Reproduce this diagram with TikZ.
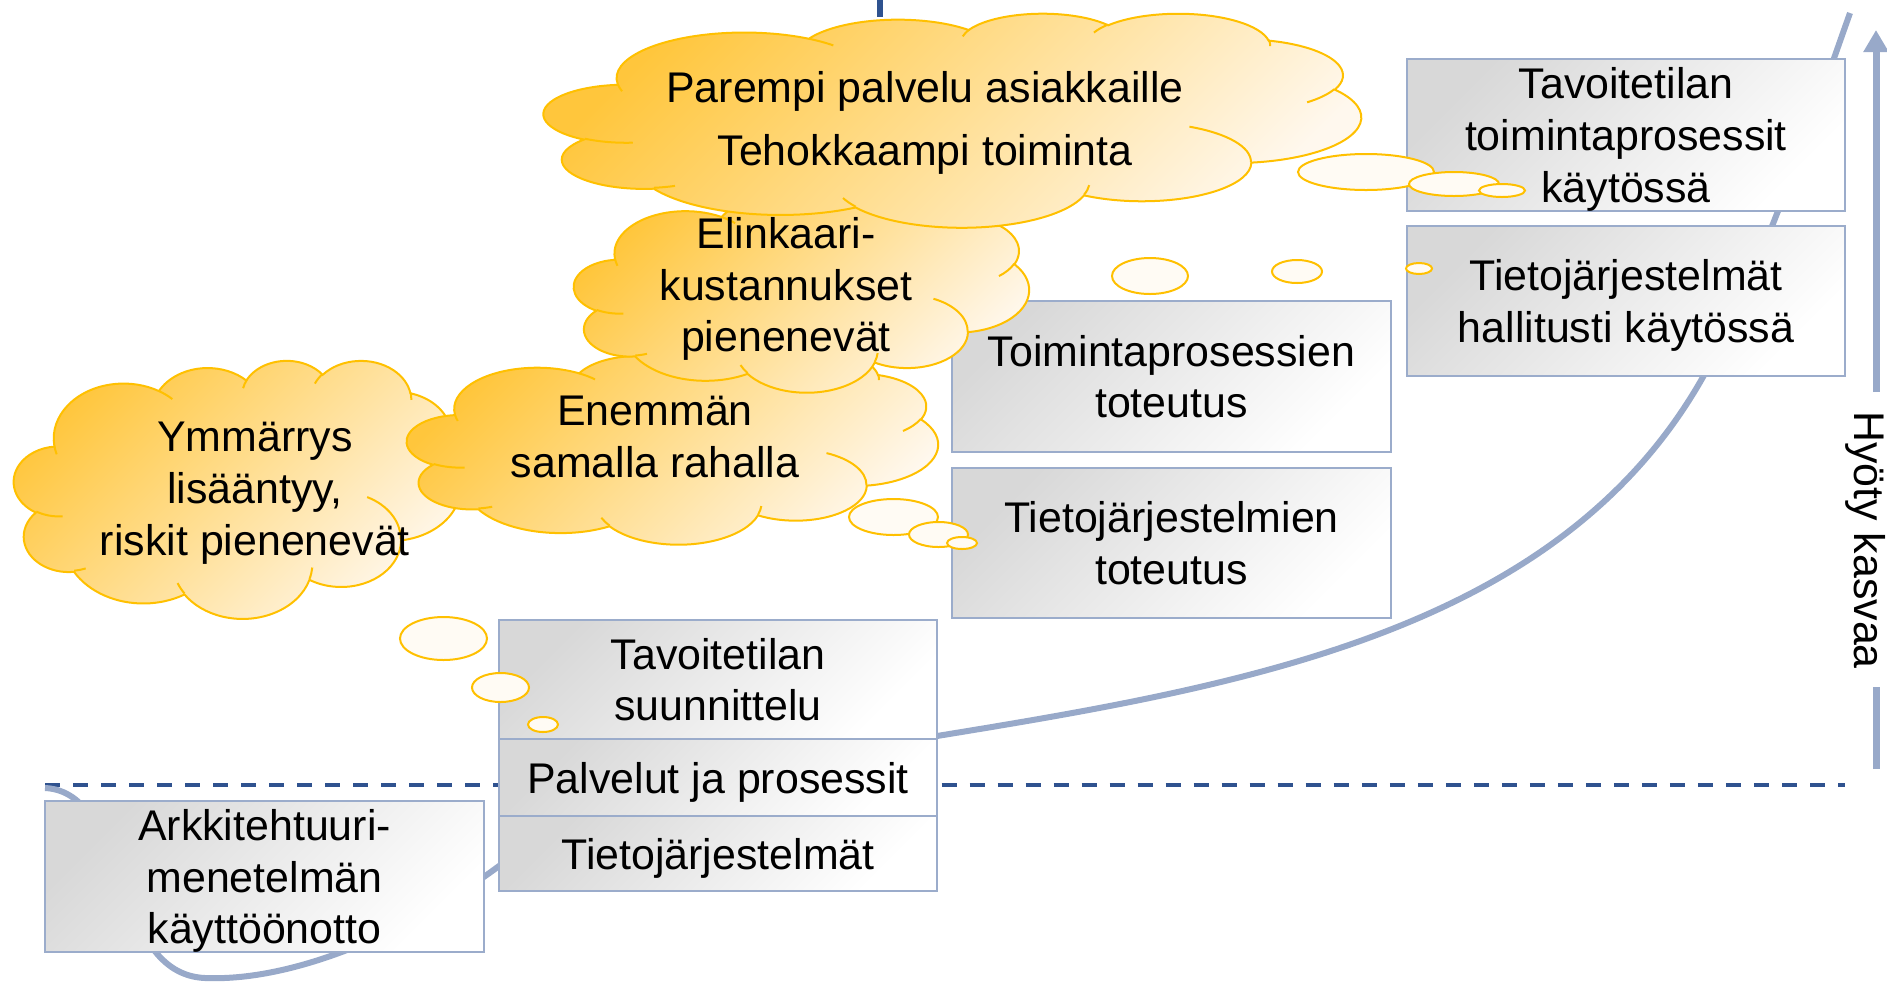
\documentclass[tikz,border=0pt]{standalone}
\usepackage{fontspec}
\setmainfont{Liberation Sans}
\usetikzlibrary{arrows.meta}

\definecolor{laatikkoreuna}{RGB}{155,172,203}
\definecolor{laatikkoharmaa}{RGB}{216,216,216}
\definecolor{kayransini}{RGB}{152,169,201}
\definecolor{tummasini}{RGB}{47,82,143}
\definecolor{kulta}{RGB}{255,192,0}
\definecolor{pilviyla}{RGB}{255,198,60}
\definecolor{pilvikeski}{RGB}{255,222,145}
\definecolor{pilviala}{RGB}{255,248,238}
\definecolor{kuplavari}{RGB}{255,251,244}

\tikzset{
	kaari/.style n args={4}{insert path={arc[x radius=#1,y radius=#2,start angle={vang(#1,#2,#3)},delta angle={mod(vang(#1,#2,#3+#4)-vang(#1,#2,#3)+720,360)}]}},
	pilvi/.pic={
		%ULKOREUNA
		\draw[pilvireuna,top color=pilviyla,middle color=pilvikeski,bottom color=pilviala,shading angle=45] (39.00,143.70)
			[kaari={67.53}{91.90}{-190.4875}{123.7805}]
			[kaari={53.33}{72.67}{-144.1024}{89.9452}]
			[kaari={43.65}{59.45}{-145.8079}{99.7230}]
			[kaari={48.57}{65.95}{-130.9861}{117.2417}]
			[kaari={53.33}{72.73}{-78.7089}{109.0269}]
			[kaari={67.75}{92.20}{-46.2673}{130.2690}]
			[kaari={57.85}{78.67}{0.6250}{114.0333}]
			[kaari={67.52}{92.15}{22.4516}{115.1726}]
			[kaari={77.20}{105.43}{66.2426}{75.7110}]
			[kaari={43.60}{59.18}{-274.9421}{146.7356}]
			[kaari={43.45}{59.45}{-246.8285}{152.5189}] -- cycle;
		%SISAKAARET
		\draw[pilvireuna] (46.93,261.77) [kaari={43.45}{59.45}{86.7420}{26.4295}]
			(69.28,348.99) [kaari={43.60}{59.18}{73.6105}{11.4475}]
			(164.78,390.90) [kaari={67.52}{92.15}{137.6242}{14.0811}]
			(288.27,347.51) [kaari={67.52}{92.15}{6.4533}{15.9984}]
			(341.29,229.54) [kaari={57.85}{78.67}{-70.2924}{70.9174}]
			(417.98,153.54) [kaari={53.33}{72.73}{30.3180}{27.7515}]
			(383.24,54.26) [kaari={48.57}{65.95}{-13.7443}{14.8589}]
			(290.78,39.52) [kaari={48.57}{65.95}{-149.1815}{18.1954}]
			(221.41,47.20) [kaari={43.65}{59.45}{-163.4943}{17.6864}]
			(140.00,51.92) [kaari={67.53}{91.90}{-66.7070}{12.3194}]
			(41.27,157.89) [kaari={67.53}{91.90}{157.6544}{11.8582}];
	}
}

\begin{document}
\begin{tikzpicture}[x=0.01cm,y=-0.01cm,
	declare function={vang(\rx,\ry,\va)=atan2(\rx*sin(\va),\ry*cos(\va));},
	font=\fontsize{12.2}{14.7}\selectfont,
	pilvireuna/.style={draw=kulta,line width=0.02cm},
	kupla/.style={draw=kulta,line width=0.02cm,fill=kuplavari},
	vaihe/.style={draw=laatikkoreuna,line width=0.02cm,top color=laatikkoharmaa,bottom color=white,shading angle=45,minimum width=4.38cm,inner sep=0pt,text depth=0pt,align=center},
	pilviteksti/.style={align=center,inner sep=0pt},
	kayra/.style={draw=kayransini,line width=0.06cm},
	katko/.style={draw=tummasini,line width=0.04cm,dash pattern=on 0.15cm off 0.13cm},
	hyotyviiva/.style={draw=kayransini,line width=0.07cm}]
	\useasboundingbox (0,0) rectangle (1887,981);
	%VIIVAT
	\coordinate (ylin) at (880,0);
	\coordinate (ylinala) at (880,17);
	\draw[tummasini,line width=0.06cm] (ylin) -- (ylinala);
	\coordinate (katkovasen) at (45,785);
	\coordinate (katko oikea) at (1845,785);
	\draw[katko] (katkovasen) -- (katko oikea);
	%HYOTYKAYRA
	\coordinate (kalku) at (45,788);
	\coordinate (kpohja) at (205,978);
	\coordinate (kvali) at (499,866);
	\coordinate (kpino) at (937,736);
	\coordinate (kmutka) at (1703,377);
	\coordinate (kloppu) at (1850,13);
	\draw[kayra] (kalku) .. controls (130,792) and (110,974) .. (kpohja)
		.. controls (300,982) and (420,925) .. (kvali)
		.. controls (650,780) and (850,750) .. (kpino)
		.. controls (1250,685) and (1560,630) .. (kmutka)
		.. controls (1760,276) and (1820,97) .. (kloppu);
	%LAATIKOT
	\node[vaihe,minimum height=1.51cm] (ark) at (264.5,876.5) {Arkkitehtuuri-\\menetelmän\\käyttöönotto};
	\node[vaihe,minimum height=1.19cm] (suunnittelu) at (718,679.5) {Tavoitetilan\\suunnittelu};
	\node[vaihe,minimum height=0.77cm] (palvelut) at (718,777.5) {Palvelut ja prosessit};
	\node[vaihe,minimum height=0.75cm] (tietoj) at (718,853.5) {Tietojärjestelmät};
	\node[vaihe,minimum height=1.5cm] (tptoteutus) at (1171.5,376.5) {Toimintaprosessien\\toteutus};
	\node[vaihe,minimum height=1.5cm] (tjtoteutus) at (1171.5,543) {Tietojärjestelmien\\toteutus};
	\node[vaihe,minimum height=1.52cm] (tpkaytossa) at (1626,135) {Tavoitetilan\\toimintaprosessit\\käytössä};
	\node[vaihe,minimum height=1.5cm] (tjkaytossa) at (1626,301) {Tietojärjestelmät\\hallitusti käytössä};
	%PILVET
	\pic[xscale=447/432,yscale=258/432] at (14,360) {pilvi};
	\node[pilviteksti] (ymmarrys) at (255,493) {Ymmärrys\\lisääntyy,\\riskit pienenevät};
	\pic[xscale=531/432,yscale=194/432] at (407,350) {pilvi};
	\node[pilviteksti] (enemman) at (655,437) {Enemmän\\samalla rahalla};
	\pic[xscale=455/432,yscale=199/432] at (574,193) {pilvi};
	\node[pilviteksti] (elinkaari) at (786,289) {Elinkaari-\\kustannukset\\pienenevät};
	\pic[xscale=817/432,yscale=214/432] at (544,13) {pilvi};
	\node[pilviteksti] (parempi) at (925,123) {Parempi palvelu asiakkaille\\[3pt]Tehokkaampi toiminta};
	%KUPLAT
	\draw[kupla] (1366,172) ellipse [x radius=68,y radius=18];
	\draw[kupla] (1454,184) ellipse [x radius=45,y radius=12];
	\draw[kupla] (1502,190.5) ellipse [x radius=23,y radius=6.5];
	\draw[kupla] (1419,268.5) ellipse [x radius=13,y radius=5.5];
	\draw[kupla] (1150,276) ellipse [x radius=38,y radius=18];
	\draw[kupla] (1297,271.5) ellipse [x radius=25,y radius=11.5];
	\draw[kupla] (893.5,517) ellipse [x radius=44.5,y radius=18];
	\draw[kupla] (938.5,534.5) ellipse [x radius=29.5,y radius=12.5];
	\draw[kupla] (962,543) ellipse [x radius=15,y radius=6];
	\draw[kupla] (443.5,638.5) ellipse [x radius=43.5,y radius=21.5];
	\draw[kupla] (500.5,687.5) ellipse [x radius=28.5,y radius=14.5];
	\draw[kupla] (543,724.5) ellipse [x radius=15,y radius=7.5];
	%HYOTY
	\coordinate (hala) at (1876,769);
	\coordinate (hvali1) at (1876,687);
	\coordinate (hvali2) at (1876,392);
	\coordinate (hkarki) at (1876,30);
	\draw[hyotyviiva] (hala) -- (hvali1);
	\draw[hyotyviiva,-{Triangle[width=0.24cm,length=0.22cm]}] (hvali2) -- (hkarki);
	\node[rotate=-90] (hyoty) at (1866,540) {Hyöty kasvaa};
\end{tikzpicture}
\end{document}
